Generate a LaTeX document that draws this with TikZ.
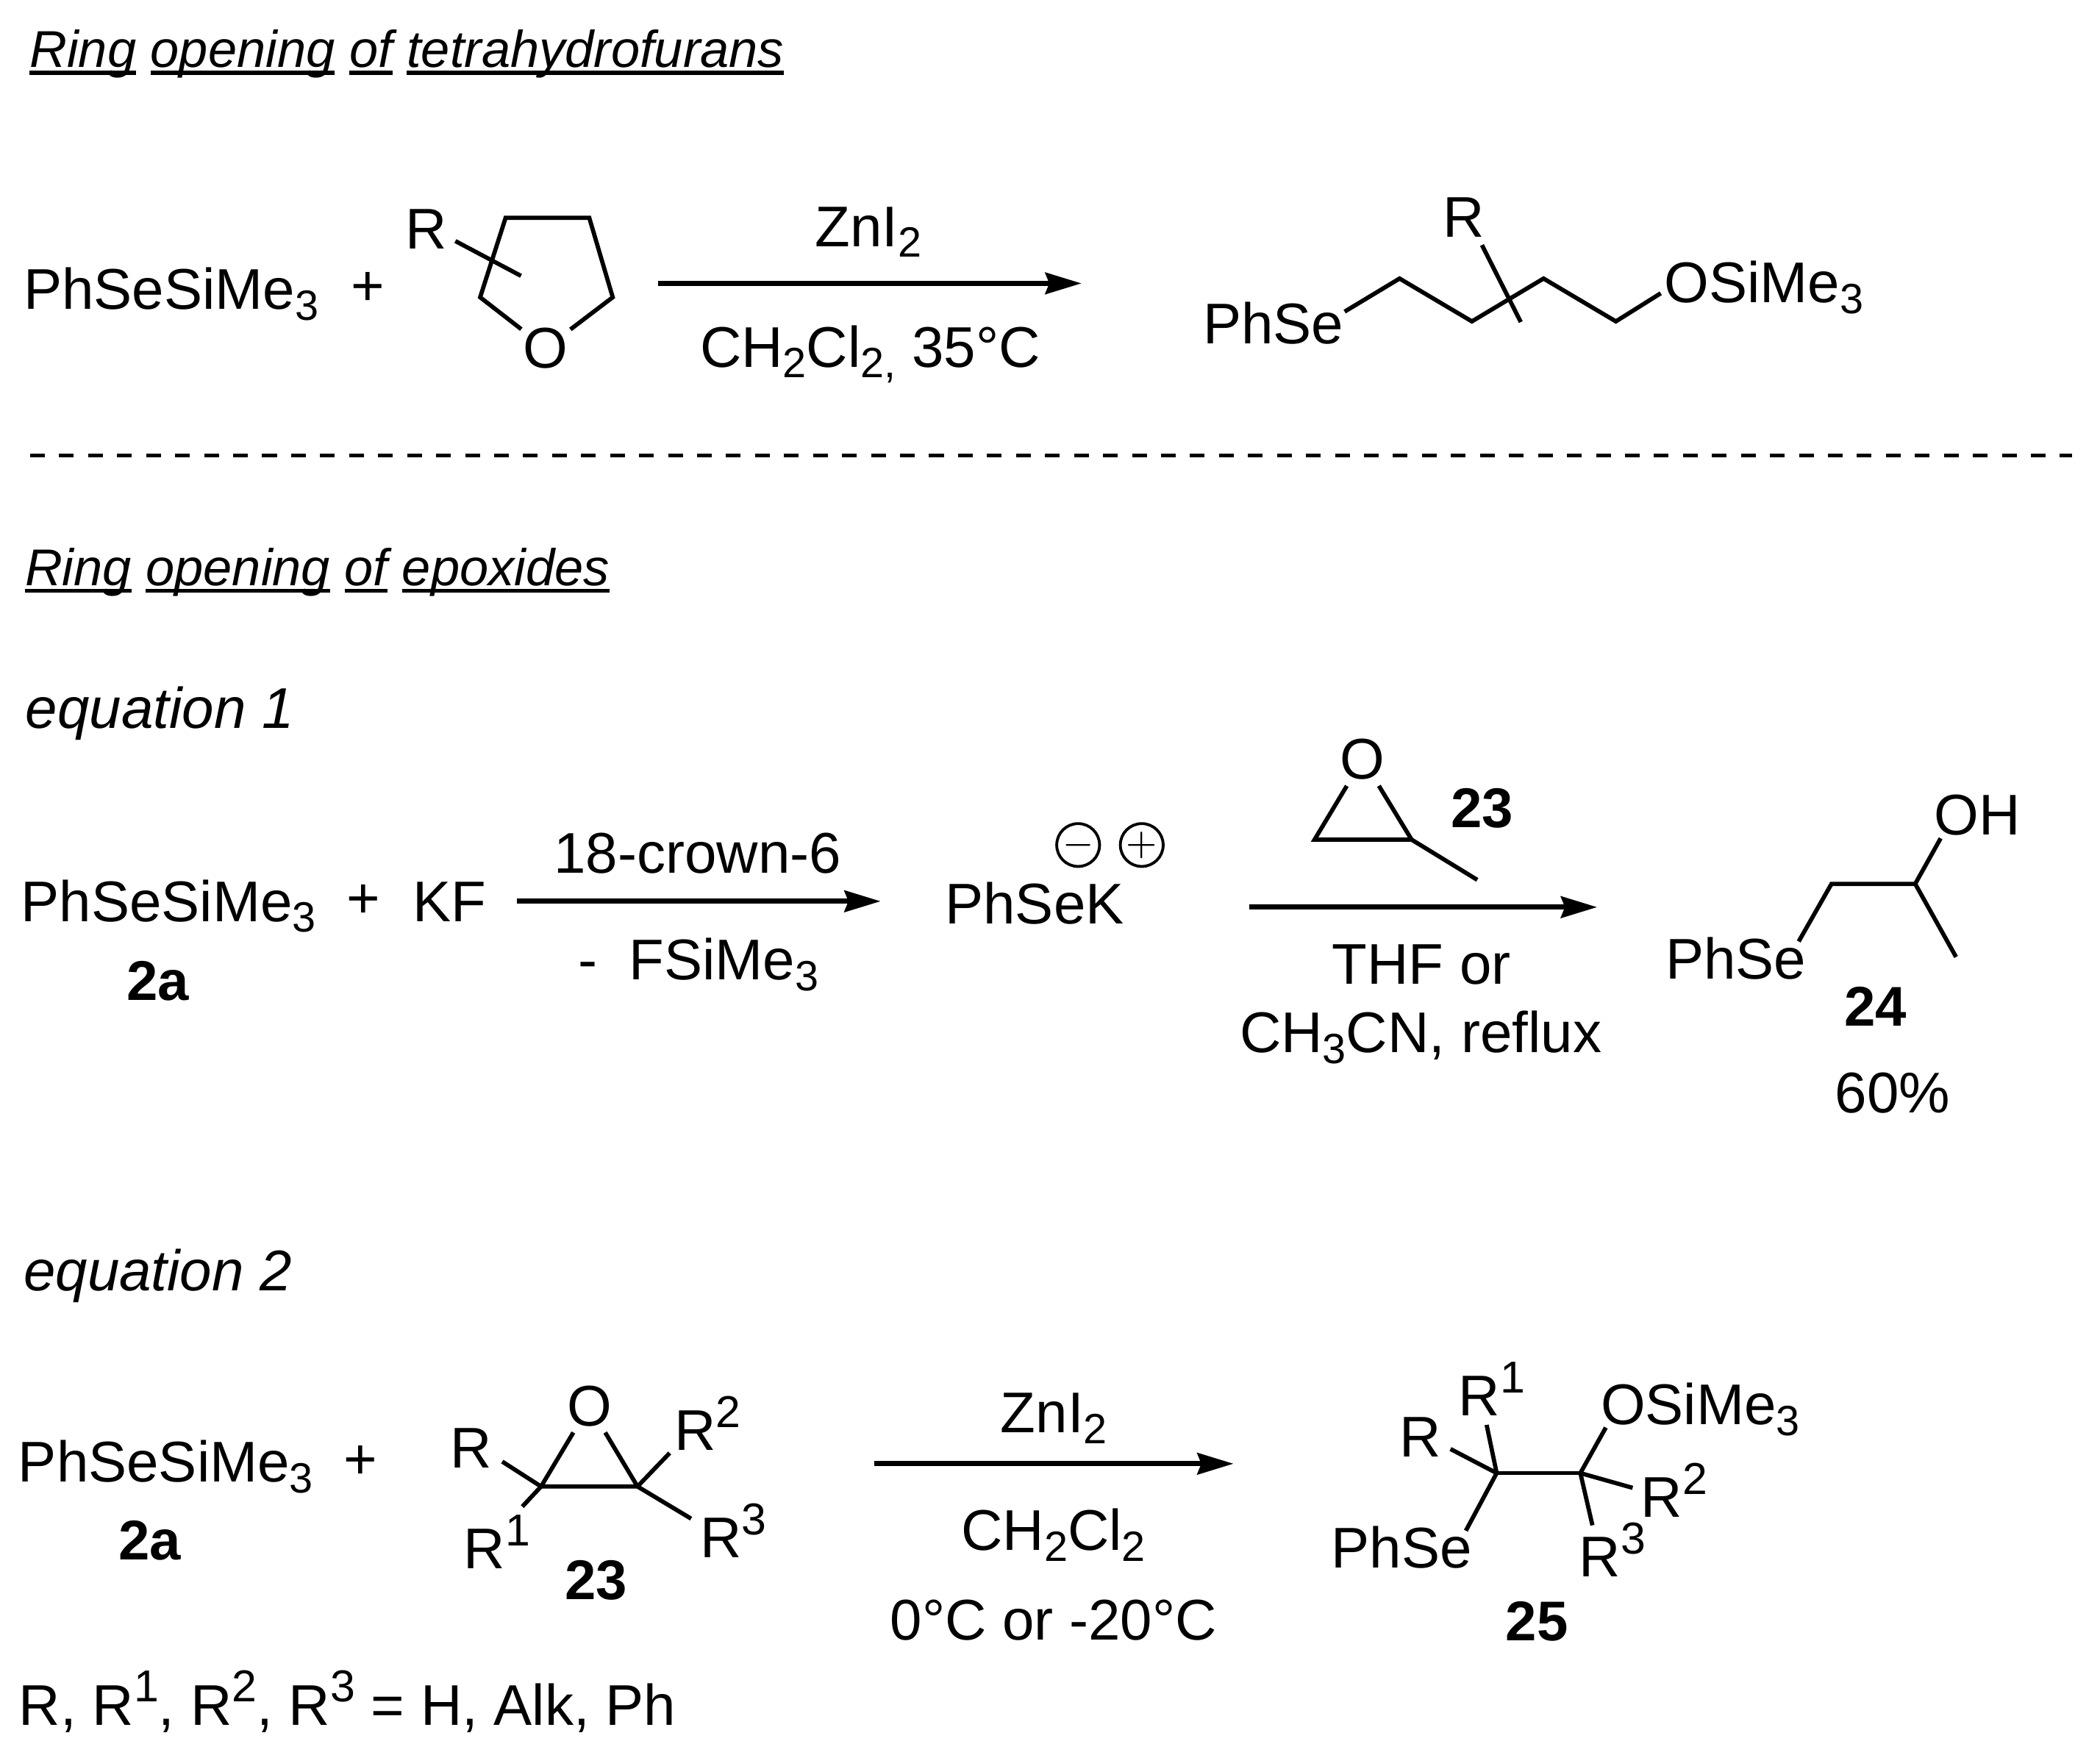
\documentclass[tikz,border=0pt]{standalone}
\usepackage{fontspec}
\setmainfont{Liberation Sans}
\usetikzlibrary{arrows.meta}
\newcommand{\subn}[1]{\raisebox{-0.19em}{\fontsize{9}{10}\selectfont #1}}
\newcommand{\supn}[1]{\raisebox{0.40em}{\fontsize{9.5}{10}\selectfont #1}}
\newcommand{\wordline}[1]{\setbox0=\hbox{#1}\makebox[0pt][l]{\rule[-1.5pt]{\wd0}{0.8pt}}\box0\relax}
\tikzset{
  chemtext/.style={anchor=base west,inner sep=0pt,font=\fontsize{12.2}{14}\selectfont},
  boldtext/.style={chemtext,font=\fontsize{11.9}{14}\selectfont\bfseries},
  headtext/.style={anchor=base west,inner sep=0pt,font=\fontsize{11}{13}\selectfont\itshape},
  eqtext/.style={anchor=base west,inner sep=0pt,font=\fontsize{12.2}{14}\selectfont\itshape},
  plustext/.style={inner sep=0pt,font=\fontsize{12.2}{14}\selectfont},
  oatom/.style={circle,inner sep=0pt,font=\fontsize{12.2}{14}\selectfont},
  chargering/.style={circle,draw,line width=0.6pt,inner sep=0pt,minimum size=0.32cm,font=\fontsize{8}{9}\selectfont},
  bond/.style={line width=0.9pt,line join=miter},
  rxnarrow/.style={line width=1.05pt,-{Stealth[length=0.27cm,width=0.16cm,inset=0.03cm]}},
  divider/.style={line width=0.85pt,dash pattern=on 0.11cm off 0.1065cm}
}
\begin{document}
\begin{tikzpicture}
\useasboundingbox (0,0) rectangle (15.68,13.10);
%Ring opening of tetrahydrofurans
  \node[headtext] (headthf) at (0.215,12.595) {\wordline{Ring} \wordline{opening} \wordline{of} \wordline{tetrahydrofurans}};
  \node[chemtext] (silanea) at (0.17,10.79) {PhSeSiMe\subn{3}};
  \node[plustext] (plusa) at (2.745,10.94) {+};
  %THF ring
  \node[oatom] (thfo) at (4.075,10.50) {O};
  \node[chemtext] (thfr) at (3.02,11.242) {R};
  \coordinate (thfa) at (3.775,11.473);
  \coordinate (thfb) at (4.40,11.473);
  \coordinate (thfc) at (4.575,10.88);
  \coordinate (thfd) at (3.585,10.88);
  \coordinate (thfs) at (3.40,11.30);
  \coordinate (thft) at (3.89,11.04);
  \draw[bond] (thfo) -- (thfd) -- (thfa) -- (thfb) -- (thfc) -- (thfo);
  \draw[bond] (thfs) -- (thft);
  %conditions
  \coordinate (arrowas) at (4.915,10.984);
  \coordinate (arrowae) at (8.075,10.984);
  \draw[rxnarrow] (arrowas) -- (arrowae);
  \node[chemtext] (zna) at (6.08,11.26) {ZnI\subn{2}};
  \node[chemtext] (solva) at (5.22,10.36) {CH\subn{2}Cl\subn{2,} 35°C};
  %open chain product
  \node[chemtext] (phseb) at (8.975,10.534) {PhSe};
  \node[chemtext] (osib) at (12.42,10.842) {OSiMe\subn{3}};
  \node[chemtext] (chainr) at (10.77,11.327) {R};
  \coordinate (chaina) at (10.04,10.773);
  \coordinate (chainb) at (10.45,11.02);
  \coordinate (chainc) at (10.99,10.70);
  \coordinate (chaind) at (11.525,11.02);
  \coordinate (chaine) at (12.065,10.70);
  \coordinate (chainf) at (12.40,10.91);
  \coordinate (chains) at (11.065,11.27);
  \coordinate (chaint) at (11.355,10.695);
  \draw[bond] (chaina) -- (chainb) -- (chainc) -- (chaind) -- (chaine) -- (chainf);
  \draw[bond] (chains) -- (chaint);
%Divider
  \coordinate (divs) at (0.225,9.70);
  \coordinate (dive) at (15.47,9.70);
  \draw[divider] (divs) -- (dive);
%Ring opening of epoxides
  \node[headtext] (headepo) at (0.18,8.725) {\wordline{Ring} \wordline{opening} \wordline{of} \wordline{epoxides}};
  \node[eqtext] (eqone) at (0.185,7.66) {equation 1};
  \node[chemtext] (silaneb) at (0.15,6.22) {PhSeSiMe\subn{3}};
  \node[boldtext] (twoa) at (0.94,5.63) {2a};
  \node[plustext] (plusb) at (2.715,6.37) {+};
  \node[chemtext] (kf) at (3.075,6.22) {KF};
  \coordinate (arrowbs) at (3.86,6.37);
  \coordinate (arrowbe) at (6.575,6.37);
  \draw[rxnarrow] (arrowbs) -- (arrowbe);
  \node[chemtext] (crown) at (4.13,6.58) {18-crown-6};
  \node[chemtext] (fsi) at (4.31,5.783) {-\ \ FSiMe\subn{3}};
  \node[chemtext] (phsek) at (7.05,6.20) {PhSeK};
  \node[chargering] (neg) at (8.05,6.79) {$-$};
  \node[chargering] (pos) at (8.525,6.79) {$+$};
  %epoxide 23
  \node[oatom] (epoo) at (10.175,7.43) {O};
  \coordinate (epoa) at (9.815,6.83);
  \coordinate (epob) at (10.54,6.83);
  \coordinate (epom) at (11.03,6.53);
  \draw[bond] (epoo) -- (epoa) -- (epob) -- (epoo);
  \draw[bond] (epob) -- (epom);
  \node[boldtext] (epolabel) at (10.825,6.92) {23};
  \coordinate (arrowcs) at (9.33,6.326);
  \coordinate (arrowce) at (11.925,6.326);
  \draw[rxnarrow] (arrowcs) -- (arrowce);
  \node[chemtext] (thf) at (9.94,5.75) {THF or};
  \node[chemtext] (mecn) at (9.25,5.24) {CH\subn{3}CN, reflux};
  %alcohol 24
  \node[chemtext] (oh) at (14.435,6.865) {OH};
  \node[chemtext] (phsec) at (12.43,5.79) {PhSe};
  \coordinate (alca) at (13.43,6.07);
  \coordinate (alcb) at (13.675,6.50);
  \coordinate (alcc) at (14.30,6.50);
  \coordinate (alcd) at (14.49,6.84);
  \coordinate (alce) at (14.605,5.954);
  \draw[bond] (alca) -- (alcb) -- (alcc) -- (alcd);
  \draw[bond] (alcc) -- (alce);
  \node[boldtext] (alclabel) at (13.765,5.44) {24};
  \node[chemtext] (yield) at (13.695,4.79) {60\%};
%equation 2
  \node[eqtext] (eqtwo) at (0.17,3.46) {equation 2};
  \node[chemtext] (silanec) at (0.13,2.032) {PhSeSiMe\subn{3}};
  \node[plustext] (plusc) at (2.69,2.18) {+};
  \node[boldtext] (twob) at (0.88,1.452) {2a};
  %substituted epoxide
  \node[oatom] (subo) at (4.40,2.602) {O};
  \coordinate (suba) at (4.04,2.00);
  \coordinate (subb) at (4.76,2.00);
  \draw[bond] (subo) -- (suba) -- (subb) -- (subo);
  \node[chemtext] (subr) at (3.355,2.14) {R};
  \node[chemtext] (subra) at (3.455,1.387) {R\supn{1}};
  \node[chemtext] (subrb) at (5.03,2.27) {R\supn{2}};
  \node[chemtext] (subrc) at (5.22,1.47) {R\supn{3}};
  \coordinate (subre) at (3.75,2.186);
  \coordinate (subrae) at (3.90,1.85);
  \coordinate (subrbe) at (5.00,2.25);
  \coordinate (subrce) at (5.16,1.76);
  \draw[bond] (suba) -- (subre);
  \draw[bond] (suba) -- (subrae);
  \draw[bond] (subb) -- (subrbe);
  \draw[bond] (subb) -- (subrce);
  \node[boldtext] (sublabel) at (4.21,1.155) {23};
  %conditions
  \coordinate (arrowds) at (6.525,2.17);
  \coordinate (arrowde) at (9.21,2.17);
  \draw[rxnarrow] (arrowds) -- (arrowde);
  \node[chemtext] (znb) at (7.465,2.40) {ZnI\subn{2}};
  \node[chemtext] (solvb) at (7.17,1.524) {CH\subn{2}Cl\subn{2}};
  \node[chemtext] (temp) at (6.64,0.855) {0°C or -20°C};
  %product 25
  \coordinate (prda) at (11.175,2.10);
  \coordinate (prdb) at (11.80,2.10);
  \draw[bond] (prda) -- (prdb);
  \node[chemtext] (prdr) at (10.445,2.22) {R};
  \node[chemtext] (prdra) at (10.885,2.528) {R\supn{1}};
  \node[chemtext] (prdo) at (11.945,2.463) {OSiMe\subn{3}};
  \node[chemtext] (prdrb) at (12.245,1.77) {R\supn{2}};
  \node[chemtext] (prdrc) at (11.785,1.326) {R\supn{3}};
  \node[chemtext] (prdse) at (9.935,1.39) {PhSe};
  \coordinate (prdre) at (10.83,2.28);
  \coordinate (prdrae) at (11.10,2.46);
  \coordinate (prdoe) at (11.99,2.44);
  \coordinate (prdrbe) at (12.19,1.99);
  \coordinate (prdrce) at (11.89,1.71);
  \coordinate (prdsee) at (10.945,1.67);
  \draw[bond] (prda) -- (prdre);
  \draw[bond] (prda) -- (prdrae);
  \draw[bond] (prda) -- (prdsee);
  \draw[bond] (prdb) -- (prdoe);
  \draw[bond] (prdb) -- (prdrbe);
  \draw[bond] (prdb) -- (prdrce);
  \node[boldtext] (prdlabel) at (11.235,0.85) {25};
  %legend
  \node[chemtext] (legend) at (0.135,0.22) {R, R\supn{1}, R\supn{2}, R\supn{3} = H, Alk, Ph};
\end{tikzpicture}
\end{document}
